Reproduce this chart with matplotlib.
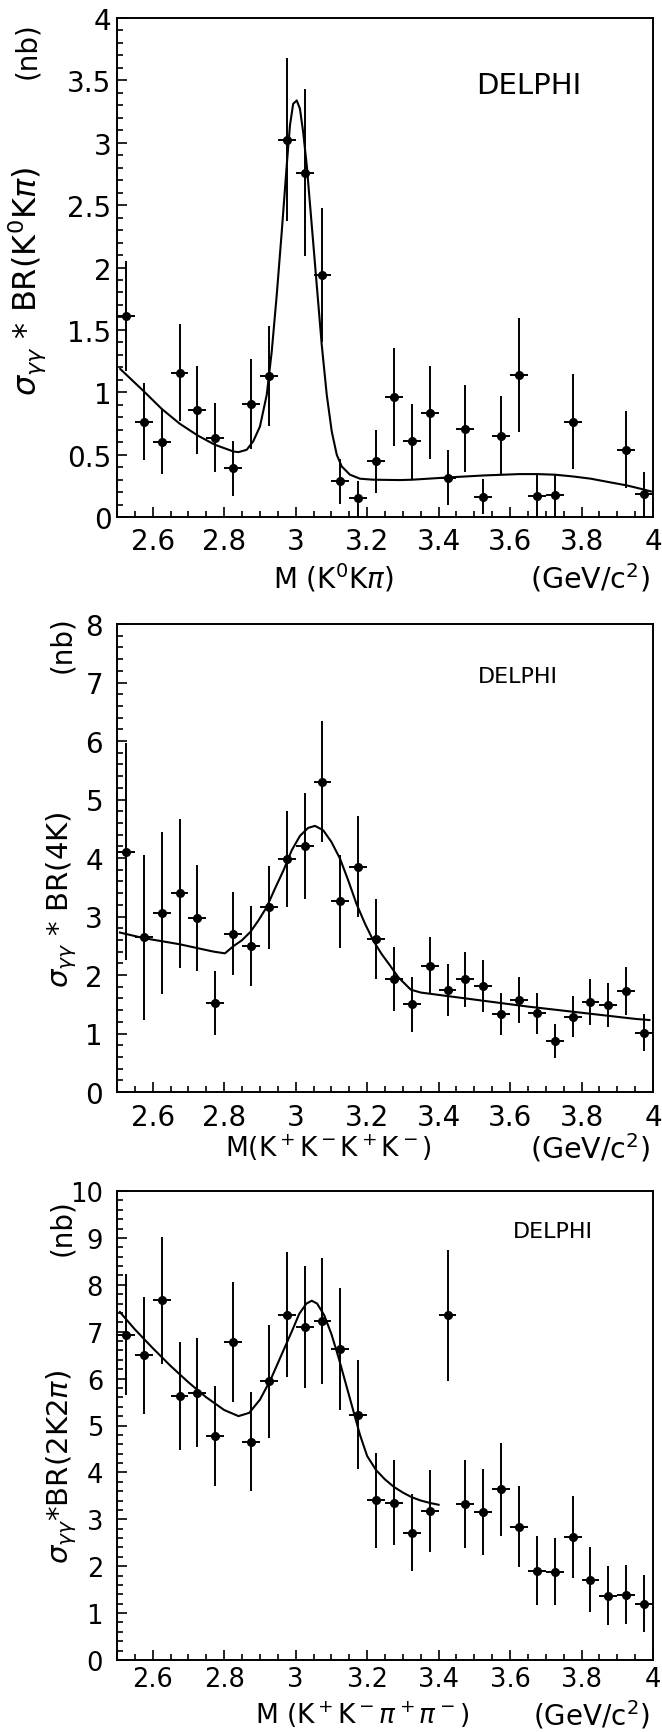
import matplotlib
matplotlib.use('Agg')
import matplotlib.pyplot as plt
from matplotlib.ticker import MultipleLocator, FuncFormatter

W, H = 662, 1733

# ---- panel 1 : K0 K pi ----
x1 = [2.525, 2.575, 2.625, 2.675, 2.725, 2.775, 2.825, 2.875, 2.925, 2.975,
      3.025, 3.075, 3.125, 3.175, 3.225, 3.275, 3.325, 3.375, 3.425, 3.475,
      3.525, 3.575, 3.625, 3.675, 3.725, 3.775, 3.925, 3.975]
y1 = [1.61, 0.765, 0.605, 1.157, 0.859, 0.637, 0.389, 0.907, 1.128, 3.024,
      2.76, 1.94, 0.288, 0.149, 0.445, 0.963, 0.608, 0.837, 0.315, 0.707,
      0.163, 0.653, 1.139, 0.171, 0.173, 0.765, 0.539, 0.184]
e1 = [0.44, 0.31, 0.26, 0.39, 0.35, 0.28, 0.22, 0.36, 0.40, 0.655,
      0.67, 0.54, 0.18, 0.14, 0.25, 0.39, 0.30, 0.37, 0.22, 0.35,
      0.14, 0.32, 0.46, 0.17, 0.17, 0.38, 0.31, 0.18]
fit1_x = [2.509, 2.576, 2.625, 2.675, 2.726, 2.774, 2.826, 2.84, 2.863, 2.881,
          2.900, 2.919, 2.933, 2.947, 2.961, 2.975, 2.984, 2.993, 3.003, 3.012,
          3.021, 3.031, 3.045, 3.059, 3.073, 3.087, 3.101, 3.115, 3.129, 3.152,
          3.180, 3.217, 3.292, 3.326, 3.426, 3.526, 3.626, 3.676, 3.726, 3.776,
          3.826, 3.876, 3.927, 3.976, 3.994]
fit1_y = [1.187, 1.005, 0.867, 0.749, 0.653, 0.579, 0.525, 0.52, 0.539, 0.605,
          0.725, 0.979, 1.325, 1.779, 2.285, 2.819, 3.139, 3.312, 3.339, 3.272,
          3.085, 2.819, 2.339, 1.859, 1.379, 0.979, 0.685, 0.499, 0.405, 0.339,
          0.307, 0.299, 0.296, 0.299, 0.317, 0.333, 0.344, 0.344, 0.339, 0.325,
          0.307, 0.28, 0.253, 0.219, 0.205]

# ---- panel 2 : 4K ----
x2 = [2.525, 2.575, 2.625, 2.675, 2.725, 2.775, 2.825, 2.875, 2.925, 2.975,
      3.025, 3.075, 3.125, 3.175, 3.225, 3.275, 3.325, 3.375, 3.425, 3.475,
      3.525, 3.575, 3.625, 3.675, 3.725, 3.775, 3.825, 3.875, 3.925, 3.975]
y2 = [4.108, 2.646, 3.063, 3.394, 2.971, 1.52, 2.709, 2.491, 3.154, 3.983,
      4.205, 5.305, 3.257, 3.852, 2.617, 1.931, 1.503, 2.16, 1.743, 1.931,
      1.811, 1.331, 1.571, 1.343, 0.869, 1.286, 1.543, 1.486, 1.726, 1.017]
e2 = [1.85, 1.41, 1.38, 1.27, 0.91, 0.55, 0.71, 0.68, 0.71, 0.82,
      0.90, 1.03, 0.80, 0.86, 0.68, 0.54, 0.47, 0.49, 0.45, 0.47,
      0.44, 0.36, 0.39, 0.35, 0.29, 0.35, 0.39, 0.38, 0.41, 0.32]
fit2_x = [2.508, 2.575, 2.675, 2.732, 2.770, 2.802, 2.826, 2.849, 2.873, 2.896,
          2.919, 2.942, 2.966, 2.989, 3.012, 3.035, 3.054, 3.077, 3.100, 3.124,
          3.147, 3.170, 3.194, 3.217, 3.240, 3.264, 3.287, 3.322, 3.35, 3.45,
          3.55, 3.65, 3.75, 3.85, 3.95, 3.99]
fit2_y = [2.726, 2.63, 2.526, 2.45, 2.40, 2.37, 2.494, 2.591, 2.734, 2.934,
          3.162, 3.476, 3.79, 4.132, 4.378, 4.515, 4.549, 4.475, 4.275, 3.99,
          3.619, 3.219, 2.877, 2.591, 2.363, 2.163, 1.963, 1.75, 1.70, 1.62,
          1.54, 1.46, 1.39, 1.32, 1.25, 1.23]

# ---- panel 3 : 2K 2pi ----
x3 = x2
y3 = [6.937, 6.496, 7.669, 5.622, 5.70, 4.776, 6.773, 4.655, 5.942, 7.363,
      7.10, 7.228, 6.631, 5.231, 3.402, 3.352, 2.712, 3.174, 7.349, 3.324,
      3.16, 3.637, 2.84, 1.907, 1.886, 2.619, 1.715, 1.374, 1.395, 1.203]
e3 = [1.29, 1.25, 1.36, 1.15, 1.16, 1.07, 1.28, 1.06, 1.21, 1.33,
      1.31, 1.35, 1.30, 1.16, 1.01, 0.91, 0.82, 0.88, 1.39, 0.93,
      0.92, 0.99, 0.86, 0.73, 0.72, 0.88, 0.70, 0.62, 0.62, 0.60]
fit3_x = [2.508, 2.55, 2.60, 2.65, 2.70, 2.75, 2.80, 2.84, 2.87, 2.90,
          2.93, 2.96, 2.99, 3.01, 3.03, 3.045, 3.06, 3.08, 3.10, 3.12,
          3.14, 3.16, 3.18, 3.20, 3.225, 3.25, 3.275, 3.30, 3.325, 3.35,
          3.375, 3.40]
fit3_y = [7.42, 7.05, 6.65, 6.27, 5.92, 5.60, 5.33, 5.20, 5.27, 5.55,
          5.98, 6.50, 7.02, 7.38, 7.60, 7.66, 7.60, 7.35, 6.95, 6.45,
          5.90, 5.35, 4.80, 4.35, 4.05, 3.85, 3.69, 3.57, 3.47, 3.40,
          3.35, 3.31]


def fx(px):
    return px / W


def fy(py):
    return 1 - py / H


fig = plt.figure(figsize=(W / 100, H / 100), dpi=100)
fmt = FuncFormatter(lambda v, p: '%g' % v)

panels = [
    # top, bottom, data, ymax, ymajor, yminor, ypad, xpad, tick font
    (19, 518, x1, y1, e1, fit1_x, fit1_y, 4, 0.5, 0.1, 4, 7, 20),
    (625, 1093, x2, y2, e2, fit2_x, fit2_y, 8, 1, 0.2, 10, 8, 20),
    (1192, 1661, x3, y3, e3, fit3_x, fit3_y, 10, 1, 0.2, 10, 4, 18.5),
]

for top, bot, xs, ys, es, fx_, fy_, ymax, ymaj, ymin, ypad, xpad, fs in panels:
    ax = fig.add_axes([fx(117), fy(bot), (653 - 117) / W, (bot - top) / H])
    ax.errorbar(xs, ys, xerr=0.025, yerr=es, fmt='o', color='black', ms=5.5,
                elinewidth=1.4, capsize=0)
    ax.plot(fx_, fy_, color='black', lw=1.5)
    ax.set_xlim(2.5, 4.0)
    ax.set_ylim(0, ymax)
    ax.xaxis.set_major_locator(MultipleLocator(0.2))
    ax.xaxis.set_minor_locator(MultipleLocator(0.05))
    ax.yaxis.set_major_locator(MultipleLocator(ymaj))
    ax.yaxis.set_minor_locator(MultipleLocator(ymin))
    ax.xaxis.set_major_formatter(fmt)
    ax.yaxis.set_major_formatter(fmt)
    ax.tick_params(which='both', direction='in', top=False, right=False, width=1.2)
    ax.tick_params(which='major', length=7.5)
    ax.tick_params(which='minor', length=4)
    ax.tick_params(axis='x', which='major', pad=xpad, labelsize=fs)
    ax.tick_params(axis='y', which='major', pad=ypad, labelsize=fs)
    for s in ax.spines.values():
        s.set_linewidth(1.4)

# panel 1 labels
fig.text(fx(27), fy(51), '(nb)', rotation=90, ha='center', va='center', fontsize=20)
fig.text(fx(27), fy(281), r'$\sigma_{\gamma\gamma}$ * BR(K$^0$K$\pi$)', rotation=90,
         ha='center', va='center', fontsize=23)
fig.text(fx(333), fy(578), r'M (K$^0$K$\pi$)', ha='center', va='center', fontsize=20)
fig.text(fx(650), fy(578), r'(GeV/c$^2$)', ha='right', va='center', fontsize=20.5)
fig.text(fx(529), fy(86), 'DELPHI', ha='center', va='center', fontsize=21)

# panel 2 labels
fig.text(fx(62), fy(645), '(nb)', rotation=90, ha='center', va='center', fontsize=20)
fig.text(fx(62), fy(900), r'$\sigma_{\gamma\gamma}$ * BR(4K)', rotation=90,
         ha='center', va='center', fontsize=21)
fig.text(fx(328), fy(1148), r'M(K$^+$K$^-$K$^+$K$^-$)', ha='center', va='center', fontsize=19)
fig.text(fx(650), fy(1148), r'(GeV/c$^2$)', ha='right', va='center', fontsize=20.5)
fig.text(fx(518), fy(677), 'DELPHI', ha='center', va='center', fontsize=16)

# panel 3 labels
fig.text(fx(62), fy(1228), '(nb)', rotation=90, ha='center', va='center', fontsize=20)
fig.text(fx(62), fy(1467), r'$\sigma_{\gamma\gamma}$*BR(2K2$\pi$)', rotation=90,
         ha='center', va='center', fontsize=21)
fig.text(fx(362), fy(1715), r'M (K$^+$K$^-\pi^+\pi^-$)', ha='center', va='center', fontsize=19)
fig.text(fx(650), fy(1715), r'(GeV/c$^2$)', ha='right', va='center', fontsize=20)
fig.text(fx(553), fy(1232), 'DELPHI', ha='center', va='center', fontsize=16)

fig.savefig('out.png', dpi=100)
